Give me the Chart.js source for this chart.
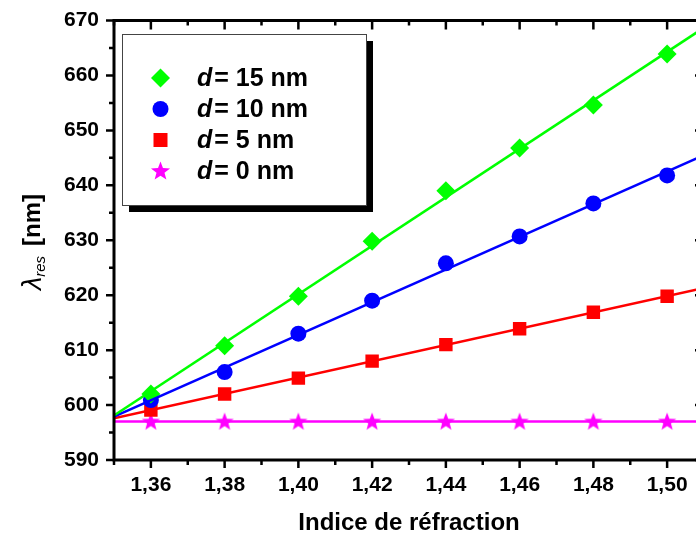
<!DOCTYPE html>
<html>
<head>
  <title>Resonance wavelength vs refractive index</title>
  <script src="https://cdn.jsdelivr.net/npm/chart.js"></script>
  <style>
    body { margin: 0; overflow: hidden; background: #fff; }
    #wrap { width: 720px; height: 537px; }
  </style>
</head>
<body>
  <div id="wrap"><canvas id="lambdaChart"></canvas></div>

  <script>
    // values
    const indices = [1.36, 1.38, 1.40, 1.42, 1.44, 1.46, 1.48, 1.50];
    const d15 = [602, 610.8, 619.8, 629.8, 639, 646.8, 654.6, 663.9];
    const d10 = [600.9, 606, 613, 619, 625.8, 630.7, 636.7, 641.8];
    const d5 = [599.1, 602, 604.9, 608, 611, 613.9, 616.9, 619.8];
    const d0 = [597, 597, 597, 597, 597, 597, 597, 597];

    // linear fits, end points
    const fitX = [1.35, 1.51];
    const fit15 = [598.1, 668.7];
    const fit10 = [597.9, 645.5];
    const fit5 = [597.6, 621.3];
    const fit0 = [597, 597];

    const xMajor = [1.36, 1.38, 1.40, 1.42, 1.44, 1.46, 1.48, 1.50];
    const xMinor = [1.35, 1.37, 1.39, 1.41, 1.43, 1.45, 1.47, 1.49, 1.51];
    const yMajor = [590, 600, 610, 620, 630, 640, 650, 660, 670];
    const yMinor = [595, 605, 615, 625, 635, 645, 655, 665];
    const legendLabels = ['15 nm', '10 nm', '5 nm', '0 nm'];

    const GREEN = '#00ff00', BLUE = '#0000ff', RED = '#ff0000', MAGENTA = '#ff00ff';
    const FAMILY = '"Liberation Sans", Arial, sans-serif';

    const pts = (xs, ys) => xs.map((x, i) => ({ x: x, y: ys[i] }));

    const starPath = (ctx, cx, cy, R, r) => {
      ctx.beginPath();
      for (let i = 0; i < 10; i++) {
        const rad = i % 2 ? r : R;
        const a = -Math.PI / 2 + i * Math.PI / 5;
        ctx.lineTo(cx + rad * Math.cos(a), cy + rad * Math.sin(a));
      }
      ctx.closePath();
    };

    const starImg = document.createElement('canvas');
    starImg.width = 20;
    starImg.height = 20;
    (() => {
      const c = starImg.getContext('2d');
      c.fillStyle = MAGENTA;
      starPath(c, 10, 10.5, 9.5, 4);
      c.fill();
    })();

    const fitLine = (ys, color) => ({
      type: 'line',
      data: pts(fitX, ys),
      borderColor: color,
      borderWidth: 2.5,
      pointRadius: 0,
      fill: false
    });

    const marks = (ys, color, style, r) => ({
      type: 'scatter',
      data: pts(indices, ys),
      backgroundColor: color,
      borderColor: color,
      borderWidth: 0,
      pointStyle: style,
      pointRadius: r,
      pointHoverRadius: r
    });

    const noPad = s => {
      s.paddingTop = 0;
      s.paddingBottom = 0;
      s.paddingLeft = 0;
      s.paddingRight = 0;
    };

    const framePlugin = {
      id: 'frame',
      afterDatasetsDraw(chart) {
        const { ctx, chartArea: a, scales: { x, y } } = chart;
        ctx.save();
        ctx.strokeStyle = '#000';
        ctx.lineWidth = 2.5;
        ctx.beginPath();
        const seg = (x1, y1, x2, y2) => { ctx.moveTo(x1, y1); ctx.lineTo(x2, y2); };
        xMajor.forEach(v => {
          const p = x.getPixelForValue(v);
          seg(p, a.bottom, p, a.bottom + 8);
          seg(p, a.top, p, a.top + 9);
        });
        xMinor.forEach(v => {
          const p = x.getPixelForValue(v);
          seg(p, a.bottom, p, a.bottom + 5);
          seg(p, a.top, p, a.top + 5);
        });
        yMajor.forEach(v => {
          const p = y.getPixelForValue(v);
          seg(a.left - 8, p, a.left, p);
          seg(a.right - 9, p, a.right, p);
        });
        yMinor.forEach(v => {
          const p = y.getPixelForValue(v);
          seg(a.left - 5, p, a.left, p);
          seg(a.right - 5, p, a.right, p);
        });
        ctx.stroke();
        ctx.lineWidth = 3;
        ctx.strokeRect(a.left, a.top, a.right - a.left, a.bottom - a.top);
        ctx.restore();
      },
      afterDraw(chart) {
        const ctx = chart.ctx;
        ctx.save();

        // y title: lambda_res [nm]
        ctx.translate(32, 242);
        ctx.rotate(-Math.PI / 2);
        ctx.fillStyle = '#000';
        ctx.textBaseline = 'alphabetic';
        const f1 = 'italic 27px ' + FAMILY;
        const f2 = 'italic 15px ' + FAMILY;
        const f3 = 'bold 24px ' + FAMILY;
        ctx.font = f1; const w1 = ctx.measureText('\u03bb').width;
        ctx.font = f2; const w2 = ctx.measureText('res').width;
        ctx.font = f3; const w3 = ctx.measureText('[nm]').width;
        const gap = 10;
        let tx = -(w1 + w2 + gap + w3) / 2;
        ctx.font = f1; ctx.fillText('\u03bb', tx, 9); tx += w1;
        ctx.font = f2; ctx.fillText('res', tx, 13); tx += w2 + gap;
        ctx.font = f3; ctx.fillText('[nm]', tx, 8);
        ctx.setTransform(1, 0, 0, 1, 0, 0);

        // legend box with shadow
        const bx = 122, by = 34, bw = 244, bh = 171;
        ctx.fillStyle = '#000';
        ctx.fillRect(bx + 7, by + 7, bw, bh);
        ctx.fillStyle = '#fff';
        ctx.fillRect(bx, by, bw, bh);
        ctx.strokeStyle = '#444';
        ctx.lineWidth = 1;
        ctx.strokeRect(bx + 0.5, by + 0.5, bw, bh);

        const rows = [78, 109, 140, 171];
        const mx = 160.5;
        // diamond
        ctx.fillStyle = GREEN;
        ctx.beginPath();
        ctx.moveTo(mx, rows[0] - 9.5); ctx.lineTo(mx + 9.5, rows[0]);
        ctx.lineTo(mx, rows[0] + 9.5); ctx.lineTo(mx - 9.5, rows[0]);
        ctx.closePath(); ctx.fill();
        // circle
        ctx.fillStyle = BLUE;
        ctx.beginPath(); ctx.arc(mx, rows[1], 8, 0, Math.PI * 2); ctx.fill();
        // square
        ctx.fillStyle = RED;
        ctx.fillRect(mx - 7, rows[2] - 7, 14, 14);
        // star
        ctx.fillStyle = MAGENTA;
        starPath(ctx, mx, rows[3] + 0.5, 10, 4.2);
        ctx.fill();

        ctx.fillStyle = '#000';
        ctx.textBaseline = 'middle';
        const fi = 'bold italic 25px ' + FAMILY;
        const fb = 'bold 25px ' + FAMILY;
        legendLabels.forEach((lab, i) => {
          let lx = 197;
          ctx.font = fi; ctx.fillText('d', lx, rows[i] + 1);
          lx += ctx.measureText('d').width + 2;
          ctx.font = fb; ctx.fillText('= ' + lab, lx, rows[i] + 1);
        });
        ctx.restore();
      }
    };

    const createChart = () => {
      const ctx = document.getElementById('lambdaChart').getContext('2d');
      new Chart(ctx, {
        data: {
          datasets: [
            fitLine(fit15, GREEN),
            fitLine(fit10, BLUE),
            fitLine(fit5, RED),
            fitLine(fit0, MAGENTA),
            marks(d15, GREEN, 'rectRot', 9.5),
            marks(d10, BLUE, 'circle', 8),
            marks(d5, RED, 'rect', 9.5),
            marks(d0, MAGENTA, starImg, 10)
          ]
        },
        options: {
          responsive: true,
          maintainAspectRatio: false,
          animation: false,
          events: [],
          layout: { padding: { top: 20.5, right: 16, left: 0, bottom: 0 } },
          plugins: { legend: { display: false }, tooltip: { enabled: false } },
          scales: {
            x: {
              type: 'linear',
              position: 'bottom',
              min: 1.35,
              max: 1.51,
              afterBuildTicks: s => { s.ticks = xMajor.map(v => ({ value: v })); },
              afterFit: s => { s.height = 77; noPad(s); },
              grid: { display: false, drawTicks: false },
              border: { display: false },
              ticks: {
                padding: 13,
                color: '#000',
                font: { family: FAMILY, size: 21, weight: 'bold' },
                callback: v => v.toFixed(2).replace('.', ',')
              },
              title: {
                display: true,
                text: 'Indice de réfraction',
                color: '#000',
                padding: { top: 0, bottom: -1 },
                font: { family: FAMILY, size: 24, weight: 'bold' }
              }
            },
            y: {
              type: 'linear',
              min: 590,
              max: 670,
              afterBuildTicks: s => { s.ticks = yMajor.map(v => ({ value: v })); },
              afterFit: s => { s.width = 114; noPad(s); },
              grid: { display: false, drawTicks: false },
              border: { display: false },
              ticks: {
                padding: 15,
                color: '#000',
                font: { family: FAMILY, size: 21, weight: 'bold' }
              }
            }
          }
        },
        plugins: [framePlugin]
      });
    };

    createChart();
  </script>
</body>
</html>
